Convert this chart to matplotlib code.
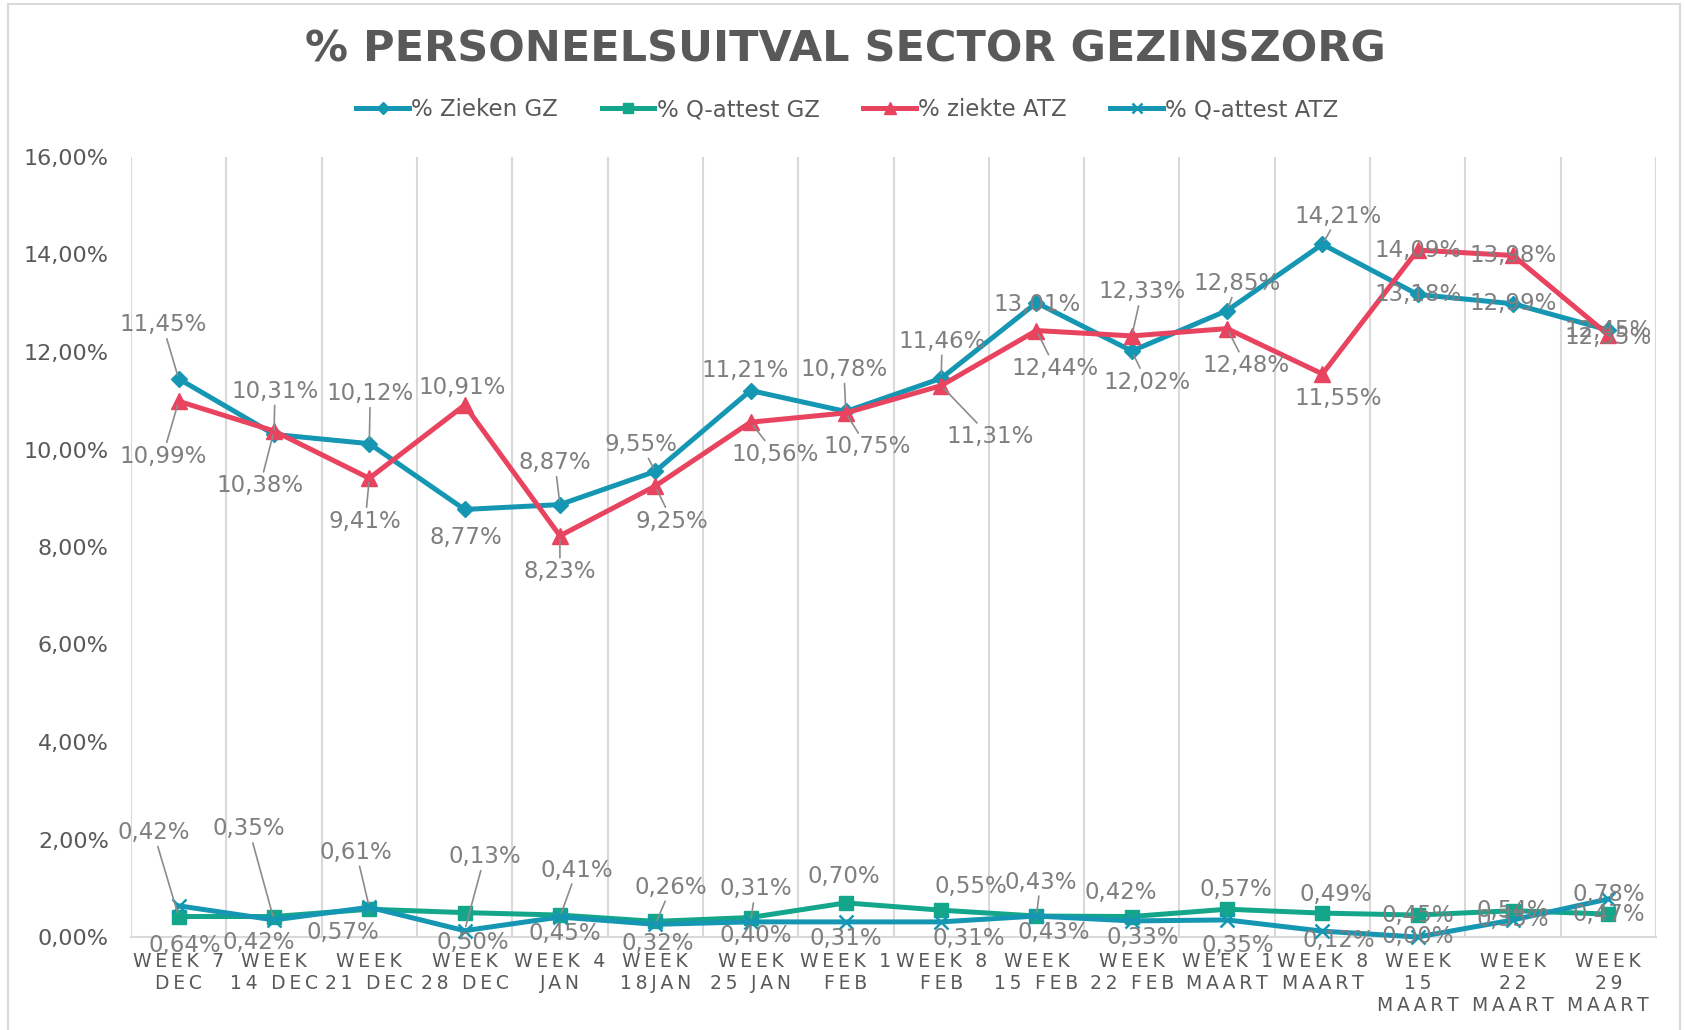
"""Excel-style line chart: % personeelsuitval sector gezinszorg."""
import matplotlib
matplotlib.use("Agg")
import matplotlib.pyplot as plt
from matplotlib.patches import Rectangle
from matplotlib.ticker import FuncFormatter, MultipleLocator

weeks = ["WEEK 7\nDEC", "WEEK\n14 DEC", "WEEK\n21 DEC", "WEEK\n28 DEC", "WEEK 4\nJAN",
         "WEEK\n18JAN", "WEEK\n25 JAN", "WEEK 1\nFEB", "WEEK 8\nFEB", "WEEK\n15 FEB",
         "WEEK\n22 FEB", "WEEK 1\nMAART", "WEEK 8\nMAART", "WEEK\n15\nMAART",
         "WEEK\n22\nMAART", "WEEK\n29\nMAART"]

zieken_gz    = [11.45, 10.31, 10.12, 8.77, 8.87, 9.55, 11.21, 10.78, 11.46, 13.01,
                12.02, 12.85, 14.21, 13.18, 12.99, 12.45]
q_attest_gz  = [0.42, 0.42, 0.57, 0.50, 0.45, 0.32, 0.40, 0.70, 0.55, 0.43,
                0.42, 0.57, 0.49, 0.45, 0.54, 0.47]
ziekte_atz   = [10.99, 10.38, 9.41, 10.91, 8.23, 9.25, 10.56, 10.75, 11.31, 12.44,
                12.33, 12.48, 11.55, 14.09, 13.98, 12.35]
q_attest_atz = [0.64, 0.35, 0.61, 0.13, 0.41, 0.26, 0.31, 0.31, 0.31, 0.43,
                0.33, 0.35, 0.12, 0.00, 0.35, 0.78]

# data label placement (pixel offsets from the point) + leader line flags
off_zieken_gz = [(-16, 54), (1, 43), (1, 50), (1, -28), (-5, 42), (-14, 27), (-5, 20), (-2, 42),
                 (1, 37), (1, -2), (15, -31), (10, 27), (16, 28), (0, 0), (0, 0), (0, 0)]
lead_zieken_gz = [1, 1, 1, 0, 1, 1, 0, 1, 1, 0, 1, 1, 1, 0, 0, 0]
off_q_gz = [(-25, 84), (-15, -26), (-26, -23), (8, -30), (5, -18), (3, -22), (5, -18), (-2, 26),
            (30, 24), (4, 34), (-11, 24), (9, 20), (13, 19), (0, 0), (0, 0), (0, 0)]
lead_q_gz = [1, 0, 0, 0, 0, 0, 0, 0, 0, 1, 0, 0, 0, 0, 0, 0]
off_ziekte_atz = [(-16, -55), (-14, -55), (-4, -43), (-2, 18), (0, -36), (17, -35), (25, -32),
                  (21, -34), (49, -51), (19, -38), (10, 44), (19, -37), (16, -25), (0, 0),
                  (0, 0), (0, -3)]
lead_ziekte_atz = [1, 1, 1, 0, 1, 1, 1, 1, 1, 1, 1, 1, 0, 0, 0, 0]
off_q_atz = [(6, -40), (-25, 91), (-13, 55), (20, 74), (17, 47), (16, 37), (5, 33), (0, -17),
             (28, -17), (17, -16), (11, -17), (11, -26), (16, -9), (0, 0), (0, 0), (0, 4)]
lead_q_atz = [0, 1, 1, 1, 1, 1, 1, 0, 0, 0, 0, 0, 0, 0, 0, 0]

BLUE = "#1597b3"
GREEN = "#14a68a"
RED = "#e8435f"
DARK = "#595959"
LABEL = "#7f7f7f"
GRID = "#d9d9d9"

SERIES = [
    # (name, values, color, marker, ms, offsets, leaders)
    ("% Zieken GZ", zieken_gz, BLUE, "D", 8.5, off_zieken_gz, lead_zieken_gz),
    ("% Q-attest GZ", q_attest_gz, GREEN, "s", 10, off_q_gz, lead_q_gz),
    ("% ziekte ATZ", ziekte_atz, RED, "^", 11.5, off_ziekte_atz, lead_ziekte_atz),
    ("% Q-attest ATZ", q_attest_atz, BLUE, "x", 10, off_q_atz, lead_q_atz),
]


def spaced(s, gap="\u2009"):
    return "\n".join(gap.join(line) for line in s.split("\n"))


def pct(v):
    return f"{v:.2f}".replace(".", ",") + "%"


plt.rcParams["font.family"] = ["DejaVu Sans"]

fig = plt.figure(figsize=(16.85, 10.30), dpi=100)
fig.patches.append(Rectangle((8 / 1685, -0.01), 1672 / 1685, 1.0 - 4 / 1030 + 0.01,
                             transform=fig.transFigure, fill=False, ec=GRID, lw=1.5))
ax = fig.add_axes([131 / 1685, 93 / 1030, 1525 / 1685, 780 / 1030])

x = list(range(len(weeks)))
handles = []
for name, vals, color, marker, ms, offs, leads in SERIES:
    mew = 1.8 if marker == "x" else 1
    h, = ax.plot(x, vals, color=color, lw=3.6, marker=marker, ms=ms, mew=mew,
                 mec=color, mfc=color, label=name, clip_on=False, zorder=3)
    handles.append(h)

# data labels drawn on top of all series, as Excel does
for name, vals, color, marker, ms, offs, leads in SERIES:
    for i, v in enumerate(vals):
        dx, dy = offs[i]
        arrow = None
        if leads[i]:
            arrow = dict(arrowstyle="-", color="#8c8c8c", lw=1.2, shrinkA=1, shrinkB=3)
        ax.annotate(pct(v), (i, v), xytext=(dx, dy), textcoords="offset pixels",
                    ha="center", va="center", fontsize=16.5, color=LABEL,
                    bbox=dict(boxstyle="square,pad=0.05", fc="none", ec="none"),
                    arrowprops=arrow, annotation_clip=False, zorder=6)

ax.set_xlim(-0.5, len(weeks) - 0.5)
ax.set_ylim(0, 16)
ax.yaxis.set_major_locator(MultipleLocator(2))
ax.yaxis.set_major_formatter(FuncFormatter(lambda v, p: f"{v:.2f}".replace(".", ",") + "%"))
ax.set_xticks(x)
ax.set_xticklabels([spaced(w) for w in weeks], fontsize=13.5, color=DARK, linespacing=1.2)
ax.set_xticks([i - 0.5 for i in range(len(weeks) + 1)], minor=True)
ax.grid(True, which="minor", axis="x", color=GRID, lw=1.5)
ax.tick_params(axis="x", which="both", length=0, pad=11)
ax.tick_params(axis="y", length=0, pad=16, labelsize=16, labelcolor=DARK)
for side in ["top", "right", "left"]:
    ax.spines[side].set_visible(False)
ax.spines["bottom"].set_color(GRID)
ax.spines["bottom"].set_linewidth(1.5)
ax.set_axisbelow(True)

fig.text(0.502, 1 - 50 / 1030, "% PERSONEELSUITVAL SECTOR GEZINSZORG", ha="center",
         va="center", fontsize=31, fontweight="bold", color=DARK)
fig.legend(handles=handles, loc="center", bbox_to_anchor=(0.503, 1 - 110 / 1030), ncol=4,
           frameon=False, fontsize=16.5, handlelength=2.3, handletextpad=0.1,
           columnspacing=1.9, labelcolor=DARK, markerscale=0.7)

fig.savefig("out.png", dpi=100)
